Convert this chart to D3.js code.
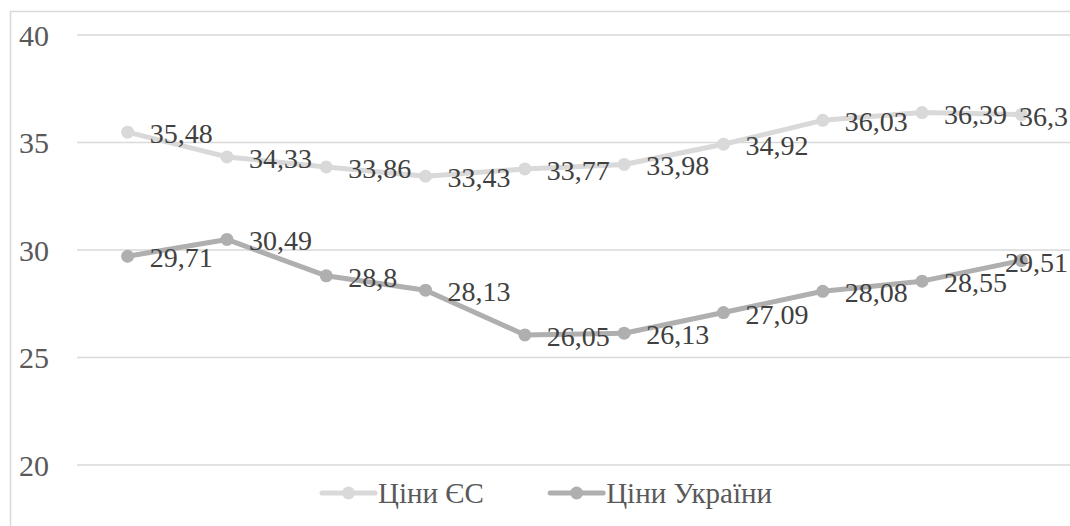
<!DOCTYPE html>
<html>
<head>
<meta charset="utf-8">
<script src="https://cdn.jsdelivr.net/npm/d3@7"></script>
<style>
  html, body { margin: 0; padding: 0; background: #fff; overflow: hidden; }
  svg { display: block; }
  svg text { font-family: "Liberation Serif", "DejaVu Serif", "Noto Serif", Tinos, "Times New Roman", serif; }
</style>
</head>
<body>
<svg id="chart" width="1070" height="526"></svg>
<script>
// ---- data ----
const categories = ["1", "2", "3", "4", "5", "6", "7", "8", "9", "10"];
const euPrices = [35.48, 34.33, 33.86, 33.43, 33.77, 33.98, 34.92, 36.03, 36.39, 36.3];
const uaPrices = [29.71, 30.49, 28.8, 28.13, 26.05, 26.13, 27.09, 28.08, 28.55, 29.51];
const seriesNames = ["Ціни ЄС", "Ціни України"];
const yTicks = [20, 25, 30, 35, 40];

// ---- styles ----
const seriesColors = ["#d9d9d9", "#afafaf"];
const chartRight = 1068;

const svg = d3.select("#chart");

// chart border
svg.append("rect")
  .attr("x", 10.5).attr("y", 11.5)
  .attr("width", 1100).attr("height", 600)
  .attr("fill", "none").attr("stroke", "#d9d9d9").attr("stroke-width", 1.5);

const x = d3.scaleBand().domain(categories).range([78, 1071]).paddingInner(0).paddingOuter(0);
const y = d3.scaleLinear().domain([20, 40]).range([465, 35]);
const cx = d => x(d) + x.bandwidth() / 2;

// gridlines
svg.append("g").selectAll("line").data(yTicks).join("line")
  .attr("x1", 77).attr("x2", 1075)
  .attr("y1", d => y(d)).attr("y2", d => y(d))
  .attr("stroke", "#d9d9d9").attr("stroke-width", 1.5);

// y axis labels
const yAxis = d3.axisLeft(y).tickValues(yTicks).tickSize(0).tickPadding(0).tickFormat(d3.format("d"));
const gy = svg.append("g").attr("transform", "translate(49,0)").call(yAxis);
gy.select(".domain").remove();
gy.attr("font-family", null);
gy.selectAll("text")
  .attr("font-size", 30).attr("fill", "#595959")
  .attr("dy", "0.34em");

const fmt = v => String(v).replace(".", ",");

const series = [
  { name: seriesNames[0], values: euPrices, color: seriesColors[0] },
  { name: seriesNames[1], values: uaPrices, color: seriesColors[1] }
];

const line = d3.line().x((d, i) => cx(categories[i])).y(d => y(d));

series.forEach(s => {
  const g = svg.append("g");
  g.append("path").datum(s.values)
    .attr("d", line).attr("fill", "none")
    .attr("stroke", s.color).attr("stroke-width", 5)
    .attr("stroke-linejoin", "round").attr("stroke-linecap", "round");
  g.selectAll("circle").data(s.values).join("circle")
    .attr("cx", (d, i) => cx(categories[i])).attr("cy", d => y(d))
    .attr("r", 6.5).attr("fill", s.color);
});

// data labels (drawn after all lines so they sit on top)
series.forEach(s => {
  const g = svg.append("g");
  g.selectAll("text").data(s.values).join("text")
    .attr("font-size", 28).attr("fill", "#404040")
    .attr("y", d => y(d) + 11)
    .text(d => fmt(d))
    .each(function(d, i) {
      const w = this.getComputedTextLength();
      let px = cx(categories[i]) + 22;
      if (px + w > chartRight) px = chartRight - w;
      d3.select(this).attr("x", px);
    });
});

// legend
const legend = svg.append("g").attr("transform", "translate(322,493)");
const legendItems = series.map(s => {
  const it = legend.append("g");
  it.append("line").attr("x1", 0).attr("x2", 53).attr("y1", 0).attr("y2", 0)
    .attr("stroke", s.color).attr("stroke-width", 5).attr("stroke-linecap", "round");
  it.append("circle").attr("cx", 26.5).attr("cy", 0).attr("r", 6.5).attr("fill", s.color);
  const t = it.append("text").attr("x", 56).attr("y", 10)
    .attr("font-size", 29).attr("fill", "#595959")
    .text(s.name);
  return { g: it, w: t.node().getComputedTextLength() };
});
const legendTotal = 450;
const gap = legendTotal - (112 + legendItems[0].w + legendItems[1].w);
legendItems[1].g.attr("transform", `translate(${56 + legendItems[0].w + gap},0)`);
</script>
</body>
</html>
